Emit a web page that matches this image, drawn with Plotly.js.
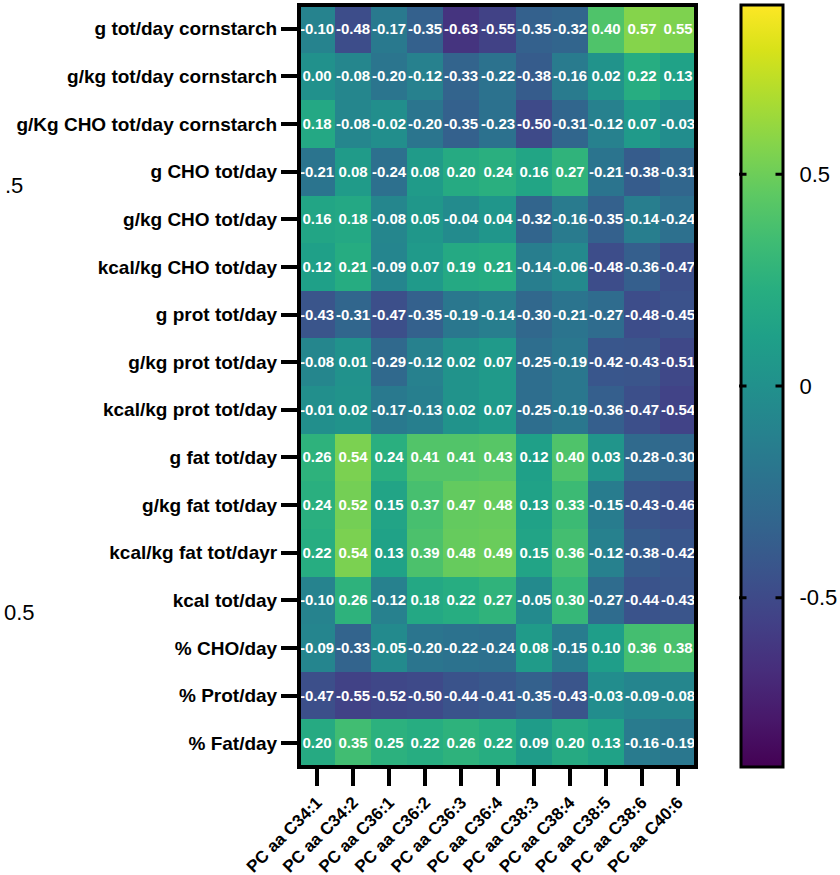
<!DOCTYPE html>
<html>
<head>
<meta charset="utf-8">
<script src="https://cdn.plot.ly/plotly-3.0.1.min.js"></script>
<style>
  html, body { margin: 0; padding: 0; background: #ffffff; }
  #chart { width: 840px; height: 875px; }
</style>
</head>
<body>
<div id="chart"></div>
<script>
// ---- Data ----
const columns = ["PC aa C34:1", "PC aa C34:2", "PC aa C36:1", "PC aa C36:2", "PC aa C36:3",
                 "PC aa C36:4", "PC aa C38:3", "PC aa C38:4", "PC aa C38:5", "PC aa C38:6", "PC aa C40:6"];

const rows = ["g tot/day cornstarch", "g/kg tot/day cornstarch", "g/Kg CHO tot/day cornstarch",
              "g CHO tot/day", "g/kg CHO tot/day", "kcal/kg CHO tot/day", "g prot tot/day",
              "g/kg prot tot/day", "kcal/kg prot tot/day", "g fat tot/day", "g/kg fat tot/day",
              "kcal/kg fat tot/dayr", "kcal tot/day", "% CHO/day", "% Prot/day", "% Fat/day"];

const r01 = [-0.10, -0.48, -0.17, -0.35, -0.63, -0.55, -0.35, -0.32, 0.40, 0.57, 0.55];
const r02 = [0.00, -0.08, -0.20, -0.12, -0.33, -0.22, -0.38, -0.16, 0.02, 0.22, 0.13];
const r03 = [0.18, -0.08, -0.02, -0.20, -0.35, -0.23, -0.50, -0.31, -0.12, 0.07, -0.03];
const r04 = [-0.21, 0.08, -0.24, 0.08, 0.20, 0.24, 0.16, 0.27, -0.21, -0.38, -0.31];
const r05 = [0.16, 0.18, -0.08, 0.05, -0.04, 0.04, -0.32, -0.16, -0.35, -0.14, -0.24];
const r06 = [0.12, 0.21, -0.09, 0.07, 0.19, 0.21, -0.14, -0.06, -0.48, -0.36, -0.47];
const r07 = [-0.43, -0.31, -0.47, -0.35, -0.19, -0.14, -0.30, -0.21, -0.27, -0.48, -0.45];
const r08 = [-0.08, 0.01, -0.29, -0.12, 0.02, 0.07, -0.25, -0.19, -0.42, -0.43, -0.51];
const r09 = [-0.01, 0.02, -0.17, -0.13, 0.02, 0.07, -0.25, -0.19, -0.36, -0.47, -0.54];
const r10 = [0.26, 0.54, 0.24, 0.41, 0.41, 0.43, 0.12, 0.40, 0.03, -0.28, -0.30];
const r11 = [0.24, 0.52, 0.15, 0.37, 0.47, 0.48, 0.13, 0.33, -0.15, -0.43, -0.46];
const r12 = [0.22, 0.54, 0.13, 0.39, 0.48, 0.49, 0.15, 0.36, -0.12, -0.38, -0.42];
const r13 = [-0.10, 0.26, -0.12, 0.18, 0.22, 0.27, -0.05, 0.30, -0.27, -0.44, -0.43];
const r14 = [-0.09, -0.33, -0.05, -0.20, -0.22, -0.24, 0.08, -0.15, 0.10, 0.36, 0.38];
const r15 = [-0.47, -0.55, -0.52, -0.50, -0.44, -0.41, -0.35, -0.43, -0.03, -0.09, -0.08];
const r16 = [0.20, 0.35, 0.25, 0.22, 0.26, 0.22, 0.09, 0.20, 0.13, -0.16, -0.19];

const colorbarTicks = [-0.5, 0, 0.5];
const colorbarTickText = ["-0.5", "0", "0.5"];
const zMin = -0.9, zMax = 0.9;

// stray partial labels visible at the left edge of the reference image
const strayLabels = [".5", "0.5"];

// ---- Build ----
const z = [r01, r02, r03, r04, r05, r06, r07, r08, r09, r10, r11, r12, r13, r14, r15, r16];
const text = z.map(r => r.map(v => v.toFixed(2)));

const FONT = "Liberation Sans, Arial, Helvetica, sans-serif";
const W = 840, H = 875;
const mL = 299, mR = 144, mT = 5, mB = 108;
const plotW = W - mL - mR;
const plotH = H - mT - mB;
const cbLeftPx = 741;
const cbX = (cbLeftPx - mL) / plotW;
const cbThick = 42;

const trace = {
  type: "heatmap",
  x: columns,
  y: rows,
  z: z,
  text: text,
  texttemplate: "<b>%{text}</b>",
  textfont: { family: FONT, size: 15, color: "#ffffff" },
  colorscale: "Viridis",
  zmin: zMin,
  zmax: zMax,
  hoverinfo: "x+y+z",
  colorbar: {
    x: cbX,
    xref: "paper",
    xanchor: "left",
    xpad: 0,
    y: 0.5,
    yanchor: "middle",
    ypad: 0,
    len: 1,
    lenmode: "fraction",
    thickness: cbThick,
    thicknessmode: "pixels",
    outlinewidth: 3,
    outlinecolor: "#000000",
    tickvals: colorbarTicks,
    ticktext: colorbarTickText,
    ticks: "outside",
    ticklen: 11,
    tickwidth: 1,
    tickcolor: "rgba(0,0,0,0)",
    tickfont: { family: FONT, size: 22, color: "#000000" }
  }
};

// frame around the heatmap
const shapes = [{
  type: "rect", xref: "paper", yref: "paper", x0: 0, x1: 1, y0: 0, y1: 1,
  line: { color: "#000000", width: 4 }, fillcolor: "rgba(0,0,0,0)", layer: "above"
}];

const annotations = [
  { xref: "paper", yref: "paper", x: (3 - mL) / plotW, y: 1 - (185 - mT) / plotH,
    xanchor: "left", yanchor: "middle", showarrow: false, text: strayLabels[0],
    font: { family: FONT, size: 22, color: "#000000" } },
  { xref: "paper", yref: "paper", x: (2 - mL) / plotW, y: 1 - (612 - mT) / plotH,
    xanchor: "left", yanchor: "middle", showarrow: false, text: strayLabels[1],
    font: { family: FONT, size: 22, color: "#000000" } }
];
// short inner tick stubs on both sides of the colorbar (annotations draw above the colorbar)
const barL = 739;             // outline left edge (px)
const barR = 783;             // outline right edge (px)
colorbarTicks.forEach(tv => {
  const yy = (tv - zMin) / (zMax - zMin);
  annotations.push({
    xref: "paper", yref: "paper", x: (barL - mL) / plotW, y: yy,
    ax: 8, ay: 0, showarrow: true, arrowhead: 0, arrowwidth: 3, arrowcolor: "#000000",
    standoff: 0, startstandoff: 0, text: " ", font: { size: 1 }, borderpad: 0
  });
  annotations.push({
    xref: "paper", yref: "paper", x: (barR - mL) / plotW, y: yy,
    ax: -8, ay: 0, showarrow: true, arrowhead: 0, arrowwidth: 3, arrowcolor: "#000000",
    standoff: 0, startstandoff: 0, text: " ", font: { size: 1 }, borderpad: 0
  });
});

const layout = {
  width: W,
  height: H,
  margin: { l: mL, r: mR, t: mT, b: mB, pad: 0, autoexpand: false },
  paper_bgcolor: "#ffffff",
  plot_bgcolor: "#ffffff",
  font: { family: FONT, color: "#000000" },
  xaxis: {
    type: "category",
    tickangle: -45,
    ticks: "outside",
    ticklen: 18,
    tickwidth: 4,
    tickcolor: "#000000",
    tickfont: { family: FONT, size: 17, color: "#000000", weight: "bold" },
    showgrid: false,
    zeroline: false,
    showline: false,
    fixedrange: true
  },
  yaxis: {
    type: "category",
    autorange: "reversed",
    ticks: "outside",
    ticklen: 17,
    tickwidth: 4,
    tickcolor: "#000000",
    tickfont: { family: FONT, size: 19, color: "#000000", weight: "bold" },
    showgrid: false,
    zeroline: false,
    showline: false,
    fixedrange: true
  },
  shapes: shapes,
  annotations: annotations,
  showlegend: false
};

Plotly.newPlot("chart", [trace], layout, { displayModeBar: false, staticPlot: true });
</script>
</body>
</html>
